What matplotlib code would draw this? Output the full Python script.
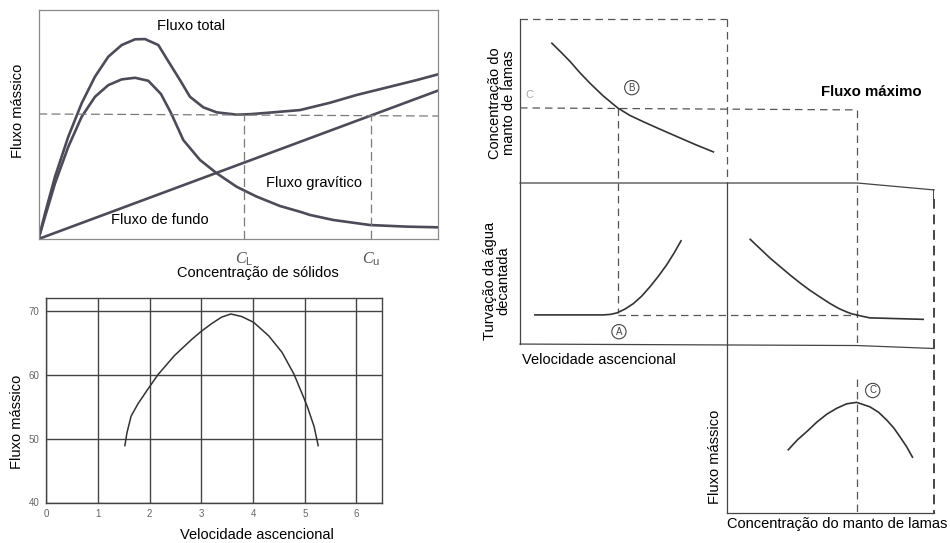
import matplotlib
matplotlib.use("Agg")
import matplotlib.pyplot as plt

plt.rcParams['font.family'] = ['Liberation Sans', 'DejaVu Sans']
plt.rcParams['mathtext.fontset'] = 'custom'
plt.rcParams['mathtext.it'] = 'Liberation Serif:italic'
plt.rcParams['mathtext.rm'] = 'Liberation Sans'

FS = 10.5

# ---------------- Panel 1: flux curves vs solids concentration ----------------
conc_total = [0, 1.63, 4.13, 7.46, 10.81, 14.14, 17.47, 20.83, 24.16, 26.66, 29.99, 32.92,
              35.42, 37.92, 41.25, 44.61, 49.61, 52.94, 57.95, 65.46, 72.97, 79.65, 87.98, 94.67, 100]
flux_total = [0, 11.2, 27.2, 44.7, 59.3, 70.9, 79.6, 84.7, 87.2, 87.3, 84.7, 76.4,
              69.4, 62.1, 57.5, 55.3, 54.3, 54.5, 55.2, 56.3, 59.5, 62.9, 66.5, 69.4, 71.9]

conc_grav = [0, 1.63, 4.13, 7.46, 10.81, 14.14, 17.47, 20.83, 24.16, 27.48, 30.66, 33.17,
             36.25, 40.43, 44.61, 49.61, 54.62, 60.45, 65.46, 67.96, 73.79, 83.0, 92.17, 100]
flux_grav = [0, 9.7, 24.3, 40.3, 53.4, 62.1, 67.2, 69.7, 70.4, 69.1, 63.3, 55.0,
             43.2, 34.5, 28.7, 22.8, 18.5, 14.4, 11.9, 10.5, 8.3, 6.1, 5.4, 5.1]

conc_under = [0, 100]
flux_under = [0, 64.8]

conc_limit = [0, 100]
flux_limit = [54.6, 53.7]
c_L, c_u = 51.4, 83.2
flux_at_cL, flux_at_cu = 54.5, 53.9

# ---------------- Panel 2: mass flux vs upflow velocity ----------------
velocity = [1.52, 1.56, 1.64, 1.77, 1.97, 2.16, 2.48, 2.81, 3.00, 3.20, 3.39, 3.57, 3.78,
            4.01, 4.30, 4.56, 4.79, 4.95, 5.05, 5.18, 5.26]
mass_flux = [48.9, 50.9, 53.5, 55.4, 57.8, 60.0, 63.0, 65.5, 66.8, 68.0, 69.0, 69.5, 69.1,
             68.2, 66.1, 63.5, 60.1, 57.0, 55.0, 51.9, 48.9]
vel_ticks = [0, 1, 2, 3, 4, 5, 6]
flux_ticks = [40, 50, 60, 70]

# ---------------- Right schematic (arbitrary 0..100 units) ----------------
top_x = [7.7, 10.0, 12.1, 14.5, 16.9, 20.0, 23.6, 26.5, 29.8, 33.8, 37.9, 42.3, 46.7]
top_y = [95.1, 93.2, 91.4, 89.1, 87.0, 84.5, 82.0, 80.5, 79.2, 77.7, 76.2, 74.6, 73.1]

turb_left_x = [3.6, 20.1, 21.8, 23.4, 25.4, 27.4, 29.4, 31.4, 33.4, 35.4, 37.2, 38.9]
turb_left_y = [40.1, 40.1, 40.2, 40.5, 41.3, 42.4, 43.9, 45.8, 47.9, 50.2, 52.6, 55.1]

turb_right_x = [55.6, 58.0, 60.4, 62.8, 65.2, 67.6, 70.0, 72.5, 74.9, 77.0, 78.9, 80.2, 81.3, 82.8, 84.5, 97.4]
turb_right_y = [55.4, 53.5, 51.6, 49.9, 48.2, 46.6, 45.1, 43.7, 42.4, 41.4, 40.7, 40.3, 40.1, 39.8, 39.5, 39.2]

bflux_x = [64.8, 67.0, 69.3, 71.7, 74.1, 76.5, 78.9, 81.3, 84.5, 86.6, 88.6, 90.3, 91.8, 93.4, 94.8]
bflux_y = [12.8, 14.8, 16.5, 18.4, 20.0, 21.2, 22.1, 22.4, 21.5, 20.4, 18.8, 17.2, 15.4, 13.4, 11.3]

x_A, x_mid, x_C, x_right = 23.6, 50.1, 81.5, 100.0
y_top, y_B, y_div, y_A, y_bot = 100.0, 82.0, 66.8, 40.1, 34.0

fig = plt.figure(figsize=(9.5, 5.43), dpi=100)

curve_col = '#4c4b58'
dash_col = '#7a7a7a'

# ---- Panel 1 ----
ax1 = fig.add_axes([38.5/950, 1-239/543, 399.5/950, 229/543])
kw = dict(color=curve_col, lw=1.9, solid_joinstyle='round', solid_capstyle='round')
ax1.plot(conc_total, flux_total, **kw)
ax1.plot(conc_grav, flux_grav, **kw)
ax1.plot(conc_under, flux_under, **kw)
ax1.plot(conc_limit, flux_limit, color=dash_col, lw=0.9, dashes=(7, 3.5))
ax1.plot([c_L, c_L], [0, flux_at_cL], color=dash_col, lw=0.9, dashes=(7, 3.5))
ax1.plot([c_u, c_u], [0, flux_at_cu], color=dash_col, lw=0.9, dashes=(7, 3.5))
ax1.set_xlim(0, 100)
ax1.set_ylim(0, 100)
ax1.set_yticks([])
ax1.set_xticks([c_L, c_u], labels=[r'$C_{\mathrm{L}}$', r'$C_{\mathrm{u}}$'])
ax1.tick_params(axis='x', length=0, pad=8, labelsize=11.5, labelcolor='#555555')
for s in ax1.spines.values():
    s.set_color('#8a8a8a')
    s.set_linewidth(0.9)
ax1.text(38.3, 93.1, 'Fluxo total', ha='center', va='center', fontsize=FS)
ax1.text(68.9, 24.6, 'Fluxo gravítico', ha='center', va='center', fontsize=FS)
ax1.text(30.4, 8.3, 'Fluxo de fundo', ha='center', va='center', fontsize=FS)
ax1.set_xlabel('Concentração de sólidos', fontsize=FS)
ax1.xaxis.set_label_coords(0.55, -0.118)
ax1.set_ylabel('Fluxo mássico', fontsize=FS)
ax1.yaxis.set_label_coords(-0.035, 0.56)

# ---- Panel 2 ----
ax2 = fig.add_axes([46.3/950, 1-502.5/543, 336/950, 204.5/543])
ax2.plot(velocity, mass_flux, color='#333333', lw=1.1, solid_joinstyle='round')
ax2.set_xlim(0, 6.5)
ax2.set_ylim(40, 72.0)
ax2.set_xticks(vel_ticks)
ax2.set_yticks(flux_ticks)
ax2.grid(True, color='#444444', lw=1.0)
ax2.tick_params(length=0, labelsize=7, labelcolor='#666666', pad=5)
for s in ax2.spines.values():
    s.set_color('#444444')
    s.set_linewidth(1.0)
ax2.set_xlabel('Velocidade ascencional', fontsize=FS)
ax2.xaxis.set_label_coords(0.628, -0.125)
ax2.set_ylabel('Fluxo mássico', fontsize=FS)
ax2.yaxis.set_label_coords(-0.066, 0.394)

# ---- Right schematic ----
ax3 = fig.add_axes([520/950, 1-513/543, 414/950, 494/543])
ax3.set_xlim(0, 100)
ax3.set_ylim(0, 100)
ax3.axis('off')

frame = dict(color='#444444', lw=0.9, clip_on=False)
dash = dict(color='#555555', lw=0.9, dashes=(6, 4), clip_on=False)
curve = dict(color='#333333', lw=1.2, clip_on=False, solid_joinstyle='round')

# solid frame lines
ax3.plot([0, 0], [y_top, y_bot + 0.2], **frame)
ax3.plot([0, x_C, x_right], [y_div, y_div, 65.4], **frame)
ax3.plot([0, x_C, x_right], [34.2, 33.9, 33.3], **frame)
ax3.plot([x_mid, x_mid], [y_div, 0], **frame)
ax3.plot([x_mid, x_right], [0, 0], **frame)
ax3.plot([x_right, x_right], [65.4, 63.6], color='#333333', lw=2.0)

# dashed guide lines
ax3.plot([0, x_mid], [y_top, y_top], **dash)
ax3.plot([x_mid, x_mid], [y_top, y_div], **dash)
ax3.plot([0, x_C], [y_B, 81.6], **dash)
ax3.plot([x_C, x_C], [81.6, y_bot], **dash)
ax3.plot([x_C, x_C], [27.1, 0], **dash)
ax3.plot([x_A, x_A], [y_B, 40.5], **dash)
ax3.plot([x_A, x_C], [y_A, y_A], **dash)
ax3.plot([x_right, x_right], [63.6, 0], color='#444444', lw=1.4, dashes=(5, 3), clip_on=False)

# curves
ax3.plot(top_x, top_y, **curve)
ax3.plot(turb_left_x, turb_left_y, **curve)
ax3.plot(turb_right_x, turb_right_y, **curve)
ax3.plot(bflux_x, bflux_y, **curve)

circ = dict(boxstyle='circle,pad=0.22', fc='white', ec='#444444', lw=0.8)
ax3.text(27.0, 86.1, 'B', ha='center', va='center', fontsize=7, color='#444444', bbox=circ)
ax3.text(23.9, 36.7, 'A', ha='center', va='center', fontsize=7, color='#444444', bbox=circ)
ax3.text(85.2, 24.8, 'C', ha='center', va='center', fontsize=7, color='#444444', bbox=circ)
ax3.text(2.2, 84.6, 'C', ha='center', va='center', fontsize=8, color='#aaaaaa')
ax3.text(84.9, 85.3, 'Fluxo máximo', ha='center', va='center', fontsize=10.8, fontweight='bold')

ax3.text(-4.3, 83.0, 'Concentração do\nmanto de lamas', rotation=90, ha='center', va='center',
         fontsize=FS, linespacing=1.0, multialignment='center')
ax3.text(-5.6, 47.0, 'Turvação da água\ndecantada', rotation=90, ha='center', va='center',
         fontsize=FS, linespacing=1.0, multialignment='center')
ax3.text(0.5, 31.0, 'Velocidade ascencional', ha='left', va='center', fontsize=FS)
ax3.text(47.1, 11.4, 'Fluxo mássico', rotation=90, ha='center', va='center', fontsize=FS)
ax3.text(76.6, -2.3, 'Concentração do manto de lamas', ha='center', va='center', fontsize=FS)

fig.savefig('out.png', dpi=100)
